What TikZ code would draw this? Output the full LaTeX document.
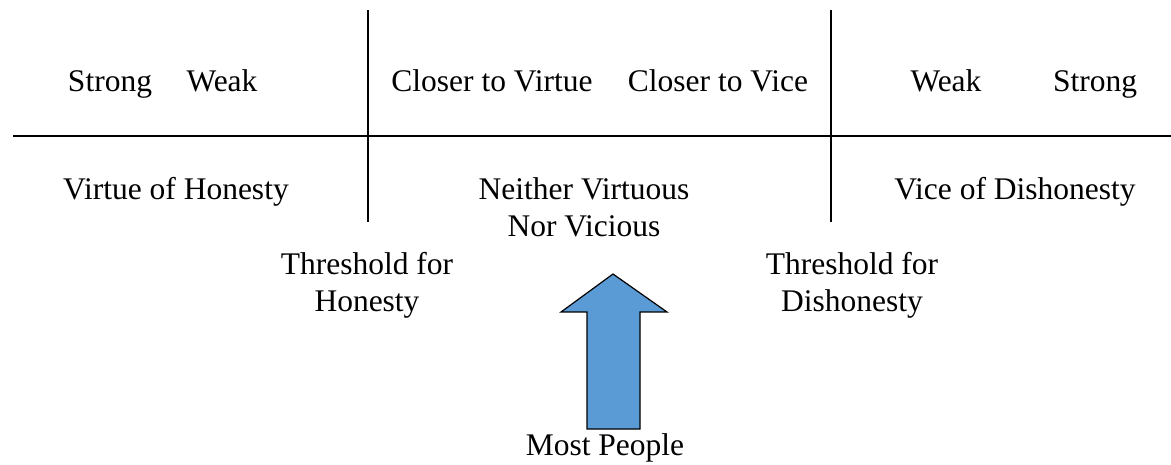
\documentclass[tikz,border=0pt]{standalone}
\usepackage{fontspec}
\setmainfont{Liberation Serif}
\definecolor{arrowblue}{HTML}{5B9BD5}
\begin{document}
\begin{tikzpicture}[x=1pt,y=-1pt,
  lbl/.style={inner sep=0pt,anchor=base,font=\fontsize{31.5}{37}\selectfont,align=center},
  rule/.style={line width=1.4pt,black},
  bigarrow/.style={fill=arrowblue,draw=black,line width=1.2pt,line join=miter}]
\useasboundingbox (0,0) rectangle (1171,465);
% rules
\draw[rule] (13,136) -- (1171,136);
\draw[rule] (368,10) -- (368,222);
\draw[rule] (831,10) -- (831,222);
% top labels
\node[lbl] (s1) at (110,92) {Strong};
\node[lbl] (w1) at (222,92) {Weak};
\node[lbl] (cvirt) at (492,92) {Closer to Virtue};
\node[lbl] (cvice) at (718,92) {Closer to Vice};
\node[lbl] (w2) at (946,92) {Weak};
\node[lbl] (s2) at (1095,92) {Strong};
% bottom labels
\node[lbl] (virtue) at (176,200) {Virtue of Honesty};
\node[lbl] (neither) at (584,237) {Neither Virtuous\\Nor Vicious};
\node[lbl] (vice) at (1015,200) {Vice of Dishonesty};
\node[lbl] (thh) at (367,312) {Threshold for\\Honesty};
\node[lbl] (thd) at (852,312) {Threshold for\\Dishonesty};
\node[lbl] (most) at (605,455) {Most People};
% arrow
\draw[bigarrow] (613,274) -- (667,312) -- (640,312) -- (640,429) -- (587,429) -- (587,312) -- (561,312) -- cycle;
\end{tikzpicture}
\end{document}
